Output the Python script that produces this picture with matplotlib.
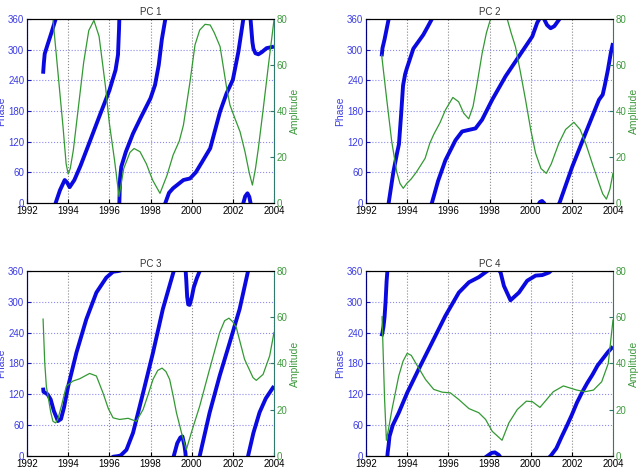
import numpy as np
import matplotlib
matplotlib.use('Agg')
import matplotlib.pyplot as plt

plt.rcParams['font.family'] = ['Liberation Sans', 'DejaVu Sans']

# Фаза (развёрнутая, градусы) и амплитуда для каждой главной компоненты
pc1_pt = [1992.78, 1992.82, 1992.86, 1993.0, 1993.2, 1993.39, 1993.6, 1993.83, 1993.95, 1994.07,
          1994.3, 1994.6, 1995.0, 1995.5, 1996.0, 1996.3, 1996.42, 1996.47, 1996.52, 1996.58,
          1996.8, 1997.15, 1997.5, 1998.0, 1998.22, 1998.4, 1998.55, 1998.72, 1998.9, 1999.1,
          1999.6, 1999.92, 2000.2, 2000.5, 2000.9, 2001.38, 2001.7, 2002.0, 2002.27, 2002.51,
          2002.6, 2002.71, 2002.8, 2002.86, 2002.9, 2002.95, 2003.0, 2003.1, 2003.24, 2003.4,
          2003.64, 2004.0]
pc1_p = [253, 275, 292, 310, 335, 360, 385, 405, 400, 391,
         405, 433, 475, 528, 580, 620, 650, 700, 768, 791,
         820, 856, 885, 925, 951, 990, 1040, 1080, 1100, 1109,
         1125, 1128, 1140, 1160, 1187, 1259, 1295, 1321, 1376, 1440,
         1453, 1459, 1452, 1440, 1420, 1395, 1382, 1373, 1371, 1375,
         1383, 1386]
pc1_at = [1992.78, 1993.0, 1993.26, 1993.5, 1993.75, 1993.9, 1994.0, 1994.1, 1994.25, 1994.5,
          1994.75, 1995.0, 1995.25, 1995.5, 1995.75, 1995.82, 1996.0, 1996.25, 1996.47, 1996.7,
          1997.0, 1997.2, 1997.49, 1997.8, 1998.1, 1998.46, 1998.8, 1999.1, 1999.4, 1999.6,
          1999.92, 2000.16, 2000.39, 2000.65, 2000.9, 2001.1, 2001.38, 2001.7, 2001.86, 2002.1,
          2002.35, 2002.59, 2002.8, 2002.95, 2003.1, 2003.24, 2003.48, 2003.73, 2004.0]
pc1_a = [95, 88, 80, 57, 33, 17, 12.6, 15, 23, 42,
         61, 75, 79.4, 72.5, 55, 50, 34.7, 18.7, 2.8, 15,
         22, 23.7, 22.3, 17, 10, 4.2, 12, 20.9, 27, 33.9,
         52.8, 68.7, 75.2, 77.7, 77.4, 74, 68, 50, 42.6, 36.8,
         31, 22.3, 13, 7.8, 15, 23.8, 41.2, 60, 79.6]

pc2_pt = [1992.76, 1992.8, 1992.9, 1993.0, 1993.1, 1993.33, 1993.52, 1993.6, 1993.7, 1993.8,
          1993.9, 1993.98, 1994.3, 1994.78, 1995.0, 1995.2, 1995.5, 1995.86, 1996.35, 1996.67,
          1996.99, 1997.32, 1997.64, 1998.13, 1998.78, 1999.43, 2000.08, 2000.32, 2000.45, 2000.55,
          2000.65, 2000.8, 2000.97, 2001.15, 2001.4, 2002.02, 2002.67, 2003.32, 2003.5, 2003.6,
          2003.75, 2003.9, 2004.0]
pc2_p = [287, 303, 320, 340, 360, 421, 460, 475, 530, 590,
         612, 623, 662, 689, 705, 720, 763, 804, 843, 860,
         863, 866, 883, 922, 968, 1007, 1046, 1073, 1082, 1084,
         1080, 1068, 1062, 1066, 1080, 1151, 1217, 1282, 1292, 1310,
         1340, 1375, 1393]
pc2_at = [1992.76, 1993.0, 1993.25, 1993.49, 1993.65, 1993.81, 1993.98, 1994.2, 1994.46, 1994.87,
          1995.1, 1995.3, 1995.6, 1995.86, 1996.22, 1996.5, 1996.75, 1996.99, 1997.2, 1997.4,
          1997.64, 1997.85, 1998.05, 1998.3, 1998.5, 1998.7, 1998.86, 1999.05, 1999.26, 1999.5,
          1999.75, 2000.0, 2000.24, 2000.5, 2000.76, 2001.0, 2001.37, 2001.7, 2002.1, 2002.4,
          2002.67, 2003.0, 2003.32, 2003.5, 2003.68, 2003.85, 2004.0]
pc2_a = [64.3, 45.5, 26.7, 13.6, 8.5, 6.4, 8.5, 10.5, 13.6, 19.4,
         26, 30, 35, 40.5, 45.9, 44, 39, 36.6, 42, 52,
         65, 74, 80, 86, 88, 85, 80, 74, 68, 57,
         44.9, 32, 21.6, 15, 12.9, 17, 26, 32, 35.1, 32,
         26, 17, 8.6, 4, 1.7, 6, 12.9]

pc3_pt = [1992.78, 1992.8, 1993.0, 1993.15, 1993.3, 1993.5, 1993.65, 1993.8, 1994.0, 1994.4,
          1994.88, 1995.37, 1995.85, 1996.18, 1996.4, 1996.55, 1996.83, 1997.15, 1997.64, 1998.12,
          1998.6, 1999.13, 1999.3, 1999.45, 1999.55, 1999.65, 1999.7, 1999.74, 1999.78, 1999.83,
          1999.9, 2000.0, 2000.1, 2000.25, 2000.39, 2000.87, 2001.36, 2001.85, 2002.33, 2002.74,
          2003.0, 2003.3, 2003.6, 2004.0]
pc3_p = [133, 125, 120, 110, 88, 68, 72, 95, 136, 201,
         266, 318, 347, 358.5, 359.7, 361, 372, 405, 483, 561,
         646, 720, 745, 756, 758, 740, 725, 700, 670, 655,
         654, 668, 688, 706, 720, 804, 876, 941, 1006, 1080,
         1125, 1165, 1192, 1216]
pc3_at = [1992.78, 1992.86, 1992.94, 1993.02, 1993.15, 1993.26, 1993.39, 1993.5, 1993.67, 1993.91,
          1994.23, 1994.56, 1995.04, 1995.37, 1995.69, 1995.95, 1996.18, 1996.5, 1996.91, 1997.31,
          1997.64, 1997.9, 1998.12, 1998.35, 1998.56, 1998.75, 1998.93, 1999.1, 1999.26, 1999.55,
          1999.74, 1999.98, 2000.39, 2000.87, 2001.36, 2001.6, 2001.81, 2002.0, 2002.17, 2002.57,
          2002.98, 2003.14, 2003.47, 2003.79, 2004.0]
pc3_a = [59.2, 40.4, 30, 25.9, 19, 15, 14.3, 16, 21.6, 30.2,
         32.4, 33.4, 35.7, 34.6, 27.3, 20.5, 16.5, 15.8, 16.3, 15,
         20.1, 27, 33.1, 37, 38, 36.5, 33.1, 26, 18.7, 8.5,
         2.7, 10, 21.6, 37.5, 53.4, 58.5, 59.6, 58, 55.5, 41.8,
         33.9, 32.7, 35.3, 43.3, 53.4]

pc4_pt = [1992.75, 1992.8, 1992.85, 1992.9, 1992.95, 1993.0, 1993.05, 1993.1, 1993.14, 1993.3,
          1993.59, 1994.0, 1994.56, 1995.21, 1995.86, 1996.51, 1997.0, 1997.48, 1997.89, 1998.1,
          1998.26, 1998.45, 1998.54, 1998.7, 1999.02, 1999.43, 1999.83, 2000.24, 2000.56, 2000.89,
          2000.97, 2001.25, 2001.5, 2001.75, 2002.0, 2002.25, 2002.5, 2002.75, 2003.0, 2003.25,
          2003.5, 2003.75, 2004.0]
pc4_p = [233, 240, 252, 270, 300, 340, 366, 382, 398, 420,
         444, 483, 529, 581, 633, 678, 698, 708, 720, 726,
         727, 722, 717, 691, 663, 678, 701, 711, 712, 717,
         720, 735, 757, 778, 800, 824, 844, 862, 878, 896,
         909, 922, 933]
pc4_at = [1992.78, 1992.9, 1992.99, 1993.1, 1993.26, 1993.59, 1993.8, 1994.0, 1994.2, 1994.4,
          1994.89, 1995.29, 1995.7, 1996.1, 1996.51, 1997.0, 1997.48, 1997.81, 1998.13, 1998.61,
          1998.94, 1999.35, 1999.79, 2000.08, 2000.45, 2001.1, 2001.59, 2002.24, 2002.64, 2003.05,
          2003.45, 2003.77, 2004.0]
pc4_a = [60.2, 25, 6.8, 12, 20.1, 34.6, 41, 44.4, 43.5, 40.4,
         33.1, 28.8, 27.6, 27.3, 24.4, 20.5, 18.7, 15.8, 10.7, 6.8,
         14.3, 20.1, 23.7, 23.5, 21.0, 27.8, 30.3, 28.5, 27.8, 28.5,
         32.1, 40, 58.8]

titles = ['PC 1', 'PC 2', 'PC 3', 'PC 4']
phase_t = [pc1_pt, pc2_pt, pc3_pt, pc4_pt]
phase_v = [pc1_p, pc2_p, pc3_p, pc4_p]
amp_t = [pc1_at, pc2_at, pc3_at, pc4_at]
amp_v = [pc1_a, pc2_a, pc3_a, pc4_a]

# Позиции осей (в долях фигуры)
rects = [[0.0423, 0.5699, 0.3865, 0.3898],
         [0.5728, 0.5699, 0.3865, 0.3898],
         [0.0423, 0.0339, 0.3865, 0.3920],
         [0.5728, 0.0339, 0.3865, 0.3920]]

blue = '#0a0ae0'
green = '#339933'

fig = plt.figure(figsize=(6.39, 4.72), dpi=100)

for i in range(4):
    ax = fig.add_axes(rects[i])
    ax2 = ax.twinx()

    t = np.array(phase_t[i])
    p = np.array(phase_v[i])
    # фаза по модулю 360: рисуем копии со сдвигом, оси сами обрезают лишнее
    for k in range(5):
        ax.plot(t, p - 360 * k, color=blue, lw=2.8, solid_capstyle='butt')

    ax2.plot(amp_t[i], amp_v[i], color=green, lw=0.9)

    ax.set_xlim(1992, 2004)
    ax.set_ylim(0, 360)
    ax2.set_ylim(0, 80)
    ax.set_xticks(range(1992, 2005, 2))
    ax.set_yticks(range(0, 361, 60))
    ax2.set_yticks(range(0, 81, 20))

    ax.xaxis.grid(True, ls=':', color='#888888', lw=0.8)
    ax.yaxis.grid(True, ls=':', color='#8c8cf0', lw=0.8)

    ax.tick_params(axis='x', direction='in', length=3, labelsize=7, pad=2, colors='black')
    ax.tick_params(axis='y', direction='in', length=3, labelsize=7, pad=2,
                   colors='#1a1ab0', labelcolor='#3c3ce6')
    ax2.tick_params(axis='y', direction='in', length=3, labelsize=7, pad=2,
                    colors='#2f7a6a', labelcolor='#3f9a3f')

    ax.spines['left'].set_color('#000080')
    ax2.spines['left'].set_color('#000080')
    ax2.spines['right'].set_color('#2f7a6a')
    ax.spines['right'].set_visible(False)

    ax.set_ylabel('Phase', color='#4040e0', fontsize=7.5, labelpad=1)
    ax2.set_ylabel('Amplitude', color='#3f9a3f', fontsize=7.5, labelpad=2)
    ax.set_title(titles[i], fontsize=7, color='#333333', pad=3)

fig.savefig('out.png', dpi=100)
